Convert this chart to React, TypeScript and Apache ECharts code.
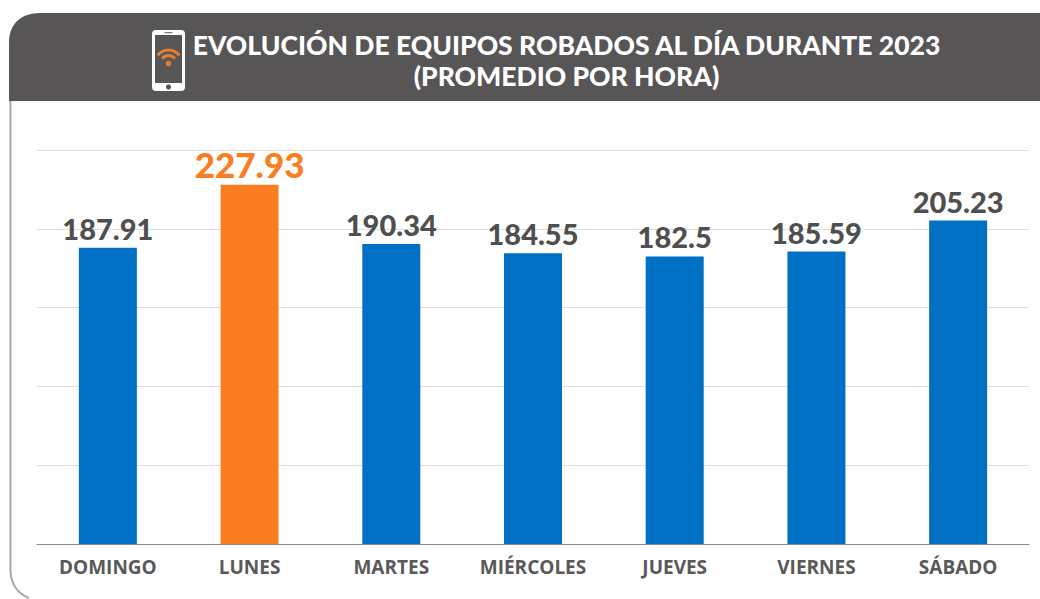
import React, { useEffect, useRef } from "react";
import * as echarts from "echarts";

const categories = ["DOMINGO", "LUNES", "MARTES", "MIÉRCOLES", "JUEVES", "VIERNES", "SÁBADO"];
const values = [187.91, 227.93, 190.34, 184.55, 182.5, 185.59, 205.23];
const valueLabels = ["187.91", "227.93", "190.34", "184.55", "182.5", "185.59", "205.23"];
const titleLines = ["EVOLUCIÓN DE EQUIPOS ROBADOS AL DÍA DURANTE 2023", "(PROMEDIO POR HORA)"];
const highlightCategory = "LUNES";

const BLUE = "#0070c4";
const ORANGE = "#fb7d22";
const WIFI = "#e08030";
const DARK = "#575556";

echarts.graphic.registerShape(
  "headerBand",
  echarts.graphic.extendPath("M9 101 L9 42 C9 24 21 13 40 13 L1040 13 L1040 101 Z", {})
);
echarts.graphic.registerShape(
  "frameEdge",
  echarts.graphic.extendPath("M10.5 101 L10.5 570 C10.5 584 18 594 29 598", {})
);

export default function App() {
  const ref = useRef<HTMLDivElement>(null);
  useEffect(() => {
    const chart = echarts.init(ref.current!, null, { renderer: "svg" });
    chart.setOption({
      animation: false,
      backgroundColor: "#ffffff",
      title: {
        text: titleLines.join("\n"),
        left: 561.5,
        top: 24,
        textAlign: "center",
        textStyle: {
          color: "#ffffff",
          fontFamily: "Lato",
          fontWeight: 900,
          fontSize: 26.5,
          lineHeight: 31,
        },
      },
      grid: { left: 37, right: 11, top: 150, bottom: 55 },
      xAxis: {
        type: "category",
        data: categories,
        axisTick: { show: false },
        axisLine: { lineStyle: { color: "#8a8a8a", width: 1 } },
        axisLabel: {
          color: "#595959",
          fontFamily: "Open Sans",
          fontWeight: 700,
          fontSize: 19,
          margin: 13,
          interval: 0,
        },
      },
      yAxis: {
        type: "value",
        min: 0,
        max: 250,
        interval: 50,
        axisLabel: { show: false },
        axisLine: { show: false },
        axisTick: { show: false },
        splitLine: { lineStyle: { color: "#dedede", width: 1 } },
      },
      series: [
        {
          type: "bar",
          barWidth: 58,
          data: values.map((v, i) => {
            const hot = categories[i] === highlightCategory;
            return {
              value: v,
              itemStyle: { color: hot ? ORANGE : BLUE },
              label: {
                show: true,
                position: "top",
                distance: hot ? 3 : 5,
                formatter: valueLabels[i],
                color: hot ? ORANGE : "#4f4f4f",
                fontFamily: "Lato",
                fontWeight: 900,
                fontSize: hot ? 35 : 29,
              },
            };
          }),
        },
      ],
      graphic: [
        { type: "frameEdge", silent: true, style: { fill: "none", stroke: "#a8a8a8", lineWidth: 2 } },
        { type: "headerBand", silent: true, style: { fill: DARK } },
        {
          type: "group",
          x: 152,
          y: 30,
          silent: true,
          children: [
            { type: "rect", shape: { x: 0, y: 0, width: 33, height: 61, r: 4 }, style: { fill: "#ffffff" } },
            { type: "rect", shape: { x: 3, y: 5, width: 27, height: 48 }, style: { fill: DARK } },
            { type: "rect", shape: { x: 12.5, y: 2, width: 8, height: 1.2 }, style: { fill: "#777777" } },
            { type: "circle", shape: { cx: 16.5, cy: 57, r: 2.6 }, style: { fill: DARK } },
            { type: "arc", shape: { cx: 16.5, cy: 33.5, r: 13.5, startAngle: -2.5, endAngle: -0.64 }, style: { fill: "none", stroke: WIFI, lineWidth: 3 } },
            { type: "arc", shape: { cx: 16.5, cy: 33.5, r: 8, startAngle: -2.5, endAngle: -0.64 }, style: { fill: "none", stroke: WIFI, lineWidth: 3 } },
            { type: "circle", shape: { cx: 16.5, cy: 33.5, r: 2.8 }, style: { fill: WIFI } },
          ],
        },
      ],
    });
    return () => chart.dispose();
  }, []);
  return <div ref={ref} style={{ position: "absolute", left: 0, top: 0, width: 1040, height: 599 }} />;
}
